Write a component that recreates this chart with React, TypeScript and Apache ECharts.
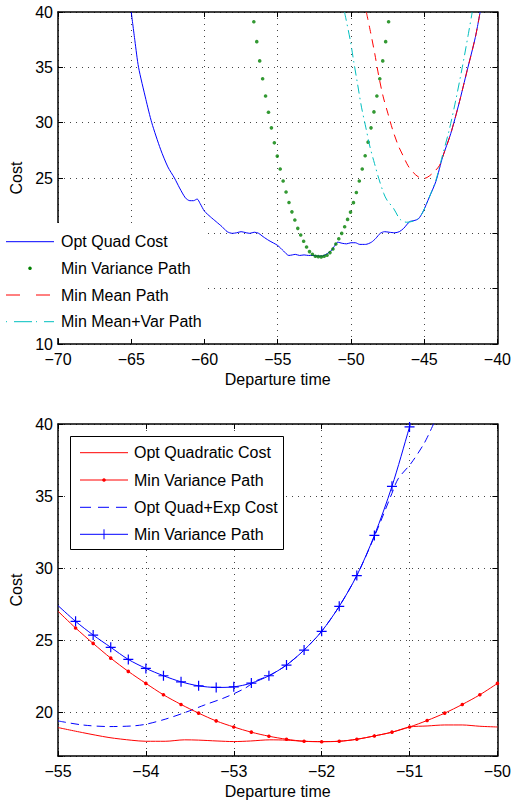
import React, { useEffect, useRef } from "react";
import * as echarts from "echarts";

// ---------- Top chart data ----------
const topOptQuadCost: [number, number][] = [
  [-65.0, 40.0], [-64.75, 37.4], [-64.5, 35.0], [-64.0, 32.1], [-63.6, 30.0], [-63.0, 27.6],
  [-62.5, 26.0], [-62.05, 25.0], [-61.7, 24.1], [-61.3, 23.2], [-61.0, 22.95], [-60.75, 22.95],
  [-60.5, 23.1], [-60.3, 22.7], [-60.0, 22.0], [-59.6, 21.5], [-59.2, 21.05], [-58.8, 20.6],
  [-58.45, 20.15], [-58.1, 20.0], [-57.8, 20.05], [-57.5, 20.15], [-57.15, 20.05], [-56.9, 20.0],
  [-56.6, 20.1], [-56.3, 20.0], [-56.0, 19.7], [-55.6, 19.35], [-55.0, 18.9],
  [-54.6, 18.4], [-54.24, 18.0], [-54.0, 18.05], [-53.8, 18.1], [-53.5, 18.0], [-53.2, 18.05],
  [-52.9, 18.0], [-52.6, 18.0], [-52.3, 17.95], [-52.0, 17.95], [-51.7, 18.1], [-51.3, 18.5],
  [-51.1, 18.9], [-50.9, 19.2], [-50.6, 19.1], [-50.3, 19.05], [-50.0, 19.15], [-49.7, 19.15],
  [-49.4, 19.0], [-49.0, 19.0], [-48.6, 19.2], [-48.3, 19.55], [-48.0, 20.0], [-47.7, 20.15],
  [-47.4, 20.1], [-47.0, 20.05], [-46.7, 20.15], [-46.4, 20.45], [-46.0, 21.05], [-45.7, 21.15],
  [-45.4, 21.3], [-45.1, 21.9], [-44.64, 23.3], [-44.2, 24.7], [-43.74, 26.9], [-43.19, 29.0],
  [-42.63, 31.7], [-42.07, 34.7], [-41.51, 37.7], [-41.18, 40.0],
];

const topMinVarX: number[] = [
  -56.63, -56.43, -56.23, -56.03, -55.83, -55.63, -55.43, -55.23, -55.03, -54.83, -54.63, -54.43,
  -54.23, -54.03, -53.83, -53.63, -53.43, -53.23, -53.03, -52.83, -52.63, -52.43, -52.23, -52.03,
  -51.83, -51.63, -51.43, -51.23, -51.03, -50.83, -50.63, -50.43, -50.23, -50.03, -49.83, -49.63,
  -49.43, -49.23, -49.03, -48.83, -48.63, -48.43, -48.23, -48.03, -47.83, -47.63, -47.43,
];
const topMinVarY: number[] = [
  39.12, 37.32, 35.58, 33.97, 32.41, 30.94, 29.53, 28.18, 26.98, 25.81, 24.73, 23.74,
  22.79, 21.94, 21.2, 20.45, 19.85, 19.28, 18.77, 18.35, 18.11, 17.93, 17.9, 17.87,
  17.93, 18.02, 18.26, 18.59, 19.04, 19.51, 20.0, 20.59, 21.26, 21.92, 22.77, 23.69,
  24.73, 25.81, 27.01, 28.24, 29.53, 30.97, 32.41, 33.97, 35.58, 37.32, 39.12,
];

const topMinMean: [number, number][] = [
  [-48.95, 40.0], [-48.65, 38.1], [-48.37, 36.2], [-48.1, 34.2], [-47.81, 32.4], [-47.47, 30.8],
  [-47.14, 29.3], [-46.76, 27.9], [-46.4, 26.9], [-46.1, 26.1], [-45.75, 25.5], [-45.4, 25.1],
  [-45.1, 24.95], [-44.8, 25.05], [-44.37, 25.5], [-43.97, 26.1], [-43.74, 26.9], [-43.19, 29.0],
  [-42.63, 31.7], [-42.07, 34.7], [-41.51, 37.7], [-41.18, 40.0],
];

const topMinMeanVar: [number, number][] = [
  [-50.44, 40.0], [-50.04, 37.4], [-49.82, 35.6], [-49.55, 33.5], [-49.28, 31.4], [-48.99, 29.6],
  [-48.7, 27.8], [-48.39, 26.3], [-48.1, 24.95], [-47.76, 23.6], [-47.54, 23.0], [-47.09, 22.25],
  [-46.64, 21.26], [-46.2, 21.0], [-45.75, 21.1], [-45.4, 21.35], [-45.1, 21.9], [-44.64, 23.3],
  [-44.2, 24.8], [-43.8, 26.8], [-43.3, 29.3], [-42.85, 32.0], [-42.4, 35.0], [-42.0, 37.9],
  [-41.72, 40.0],
];

// ---------- Bottom chart data ----------
const botOptQuadratic: [number, number][] = [
  [-55.0, 18.97], [-54.72, 18.62], [-54.42, 18.28], [-54.16, 18.09], [-54.0, 18.02], [-53.78, 18.02],
  [-53.56, 18.12], [-53.4, 18.1], [-53.19, 18.04], [-53.0, 18.0], [-52.81, 18.04], [-52.59, 18.12],
  [-52.4, 18.1], [-52.2, 18.02], [-52.0, 18.0], [-51.8, 18.02], [-51.6, 18.16], [-51.4, 18.39],
  [-51.2, 18.65], [-51.0, 19.01], [-50.8, 19.08], [-50.6, 19.15], [-50.4, 19.15], [-50.2, 19.06],
  [-50.0, 19.01],
];

const botMinVarRedX: number[] = [
  -55.0, -54.8, -54.6, -54.4, -54.2, -54.0, -53.8, -53.6, -53.4, -53.2, -53.0, -52.8, -52.6,
  -52.4, -52.2, -52.0, -51.8, -51.6, -51.4, -51.2, -51.0, -50.8, -50.6, -50.4, -50.2, -50.0,
];
const botMinVarRedY: number[] = [
  27.03, 25.87, 24.8, 23.78, 22.86, 22.03, 21.24, 20.57, 19.97, 19.43, 19.01, 18.65, 18.37,
  18.16, 18.02, 17.99, 18.02, 18.16, 18.39, 18.65, 19.01, 19.46, 19.97, 20.57, 21.24, 22.03,
];

const botOptQuadExp: [number, number][] = [
  [-55.0, 19.43], [-54.72, 19.15], [-54.42, 19.04], [-54.16, 19.08], [-54.0, 19.2], [-53.78, 19.55],
  [-53.56, 20.0], [-53.33, 20.54], [-53.1, 21.05], [-52.87, 21.7], [-52.75, 22.2], [-52.6, 22.56],
  [-52.4, 23.3], [-52.2, 24.34], [-52.0, 25.64], [-51.8, 27.37], [-51.6, 29.5], [-51.4, 32.2],
  [-51.2, 35.2], [-51.13, 36.2], [-50.98, 37.3], [-50.83, 38.7], [-50.72, 40.1],
];

const botMinVarBlueX: number[] = [
  -55.0, -54.8, -54.6, -54.4, -54.2, -54.0, -53.8, -53.6, -53.4, -53.2, -53.0, -52.8, -52.6,
  -52.4, -52.2, -52.0, -51.8, -51.6, -51.4, -51.2, -51.0, -50.98,
];
const botMinVarBlueY: number[] = [
  27.42, 26.33, 25.38, 24.53, 23.69, 23.07, 22.56, 22.14, 21.86, 21.75, 21.79, 22.05, 22.56,
  23.3, 24.34, 25.64, 27.37, 29.5, 32.28, 35.68, 39.8, 40.3,
];

// ---------- Labels / ticks ----------
const topLegendLabels = ["Opt Quad Cost", "Min Variance Path", "Min Mean Path", "Min Mean+Var Path"];
const botLegendLabels = ["Opt Quadratic Cost", "Min Variance Path", "Opt Quad+Exp Cost", "Min Variance Path"];
const topXTicks = [-70, -65, -60, -55, -50, -45, -40];
const topYTicks = [10, 15, 20, 25, 30, 35, 40];
const botXTicks = [-55, -54, -53, -52, -51, -50];
const botYRange = [17, 40];
const xName = "Departure time";
const yName = "Cost";

const FONT = "'Liberation Sans', Arial, Helvetica, sans-serif";
const FS = 16;
const BLUE = "#0000ff";
const RED = "#ff0000";
const GREEN = "#008000";
const CYAN = "#00bfbf";
const PLUS = "path://M4.4,0H5.6V4.4H10V5.6H5.6V10H4.4V5.6H0V4.4H4.4Z";

const fmt = (v: number) => (v < 0 ? "\u2212" + Math.abs(v) : String(v));

function mainX(grid: number, ticks: number[]) {
  return {
    gridIndex: grid, type: "value", position: "bottom",
    min: ticks[0], max: ticks[ticks.length - 1], interval: ticks[1] - ticks[0],
    name: xName, nameLocation: "middle", nameGap: 27,
    nameTextStyle: { fontFamily: FONT, fontSize: FS, color: "#000" },
    axisLine: { show: true, onZero: false, lineStyle: { color: "#000", width: 1.5 } },
    axisTick: { show: true, inside: true, length: 5, lineStyle: { color: "#000", width: 1 } },
    axisLabel: { margin: 7, fontFamily: FONT, fontSize: FS, color: "#000", formatter: fmt },
    splitLine: { show: true, lineStyle: { color: "#444", width: 1, type: [1, 5] } },
  };
}
function secX(grid: number, ticks: number[]) {
  return {
    gridIndex: grid, type: "value", position: "top",
    min: ticks[0], max: ticks[ticks.length - 1], interval: ticks[1] - ticks[0],
    axisLine: { show: true, onZero: false, lineStyle: { color: "#000", width: 1.5 } },
    axisTick: { show: true, inside: true, length: 5, lineStyle: { color: "#000", width: 1 } },
    axisLabel: { show: false },
    splitLine: { show: false },
  };
}
function yAxisCfg(grid: number, min: number, max: number, interval: number | undefined, main: boolean) {
  const base: any = {
    gridIndex: grid, type: "value", position: main ? "left" : "right",
    min, max,
    axisLine: { show: true, onZero: false, lineStyle: { color: "#000", width: 1.5 } },
    axisTick: { show: true, inside: true, length: 5, lineStyle: { color: "#000", width: 1 } },
    axisLabel: main
      ? { margin: 5, fontFamily: FONT, fontSize: FS, color: "#000", formatter: (v: number) => (v % 5 === 0 ? fmt(v) : "") }
      : { show: false },
    splitLine: main ? { show: true, lineStyle: { color: "#444", width: 1, type: [1, 5] } } : { show: false },
  };
  if (interval !== undefined) base.interval = interval;
  else base.splitNumber = 5;
  if (main) {
    base.name = yName;
    base.nameLocation = "middle";
    base.nameGap = 32;
    base.nameRotate = 90;
    base.nameTextStyle = { fontFamily: FONT, fontSize: FS, color: "#000" };
  }
  return base;
}

function legendLine(x1: number, x2: number, y: number, color: string, dash?: number[]) {
  return {
    type: "line", z: 101,
    shape: { x1, y1: y, x2, y2: y },
    style: { stroke: color, lineWidth: 1, lineDash: dash || null },
  };
}
function legendText(x: number, y: number, text: string) {
  return {
    type: "text", z: 101, x, y,
    style: { text, fontFamily: FONT, fontSize: FS, fill: "#000", verticalAlign: "middle", align: "left" },
  };
}

export default function App() {
  const ref = useRef<HTMLDivElement>(null);
  useEffect(() => {
    if (!ref.current) return;
    const chart = echarts.init(ref.current, undefined, { renderer: "svg" });

    const topRows = [241.7, 268.3, 295, 321.7];
    const botRows = [452.7, 480, 507.3, 534.3];

    const graphic: any[] = [
      { type: "rect", z: 100, shape: { x: 0, y: 223, width: 205, height: 115 }, style: { fill: "#fff" } },
      legendLine(6, 54, topRows[0], BLUE),
      { type: "circle", z: 101, shape: { cx: 30, cy: topRows[1], r: 1.8 }, style: { fill: GREEN } },
      legendLine(6, 54, topRows[2], RED, [14, 16]),
      legendLine(6, 54, topRows[3], CYAN, [1, 7, 18, 4]),
      ...topLegendLabels.map((t, i) => legendText(61, topRows[i], t)),
      { type: "rect", z: 100, shape: { x: 70.5, y: 436.5, width: 213, height: 113 }, style: { fill: "#fff", stroke: "#000", lineWidth: 1 } },
      legendLine(80, 128, botRows[0], RED),
      legendLine(80, 128, botRows[1], RED),
      { type: "circle", z: 101, shape: { cx: 104, cy: botRows[1], r: 1.8 }, style: { fill: RED } },
      legendLine(80, 128, botRows[2], BLUE, [11, 7]),
      legendLine(80, 128, botRows[3], BLUE),
      { type: "line", z: 101, shape: { x1: 104, y1: botRows[3] - 5, x2: 104, y2: botRows[3] + 5 }, style: { stroke: BLUE, lineWidth: 1 } },
      ...botLegendLabels.map((t, i) => legendText(134, botRows[i], t)),
    ];

    const option: any = {
      animation: false,
      backgroundColor: "#fff",
      grid: [
        { left: 58, right: 8, top: 12, height: 332 },
        { left: 58, right: 9, top: 424, height: 333 },
      ],
      xAxis: [mainX(0, topXTicks), secX(0, topXTicks), mainX(1, botXTicks), secX(1, botXTicks)],
      yAxis: [
        yAxisCfg(0, topYTicks[0], topYTicks[topYTicks.length - 1], topYTicks[1] - topYTicks[0], true),
        yAxisCfg(0, topYTicks[0], topYTicks[topYTicks.length - 1], topYTicks[1] - topYTicks[0], false),
        yAxisCfg(1, botYRange[0], botYRange[1], undefined, true),
        yAxisCfg(1, botYRange[0], botYRange[1], undefined, false),
      ],
      series: [
        {
          name: topLegendLabels[0], type: "line", xAxisIndex: 0, yAxisIndex: 0,
          data: topOptQuadCost, showSymbol: false, smooth: 0.25,
          lineStyle: { color: BLUE, width: 1 }, z: 3,
        },
        {
          name: topLegendLabels[1], type: "scatter", xAxisIndex: 0, yAxisIndex: 0,
          data: topMinVarX.map((x, i) => [x, topMinVarY[i]]),
          symbol: "circle", symbolSize: 3.6, itemStyle: { color: GREEN }, z: 4,
        },
        {
          name: topLegendLabels[2], type: "line", xAxisIndex: 0, yAxisIndex: 0,
          data: topMinMean, showSymbol: false, smooth: 0.3,
          lineStyle: { color: RED, width: 1, type: [8, 6] }, z: 5,
        },
        {
          name: topLegendLabels[3], type: "line", xAxisIndex: 0, yAxisIndex: 0,
          data: topMinMeanVar, showSymbol: false, smooth: 0.3,
          lineStyle: { color: CYAN, width: 1, type: [9, 4, 1.5, 4] }, z: 5,
        },
        {
          name: botLegendLabels[0], type: "line", xAxisIndex: 2, yAxisIndex: 2,
          data: botOptQuadratic, showSymbol: false, smooth: 0.3,
          lineStyle: { color: RED, width: 1 }, z: 3,
        },
        {
          name: botLegendLabels[1] + " (red)", type: "line", xAxisIndex: 2, yAxisIndex: 2,
          data: botMinVarRedX.map((x, i) => (i === 0 ? { value: [x, botMinVarRedY[i]], symbol: "none" } : [x, botMinVarRedY[i]])),
          showSymbol: true, symbol: "circle", symbolSize: 3.6, smooth: 0.3,
          lineStyle: { color: RED, width: 1 }, itemStyle: { color: RED }, z: 4,
        },
        {
          name: botLegendLabels[2], type: "line", xAxisIndex: 2, yAxisIndex: 2,
          data: botOptQuadExp, showSymbol: false, smooth: 0.3,
          lineStyle: { color: BLUE, width: 1, type: [8, 5] }, z: 3,
        },
        {
          name: botLegendLabels[3] + " (blue)", type: "line", xAxisIndex: 2, yAxisIndex: 2,
          data: botMinVarBlueX.map((x, i) =>
            i === 0 || i === botMinVarBlueX.length - 1
              ? { value: [x, botMinVarBlueY[i]], symbol: "none" }
              : [x, botMinVarBlueY[i]]
          ),
          showSymbol: true, symbol: PLUS, symbolSize: 10, smooth: 0.3,
          lineStyle: { color: BLUE, width: 1 }, itemStyle: { color: BLUE }, z: 4,
        },
      ],
      graphic,
    };
    chart.setOption(option);
    return () => chart.dispose();
  }, []);
  return (
    <div
      ref={ref}
      style={{ position: "fixed", left: 0, top: 0, width: 514, height: 800, background: "#fff" }}
    />
  );
}
